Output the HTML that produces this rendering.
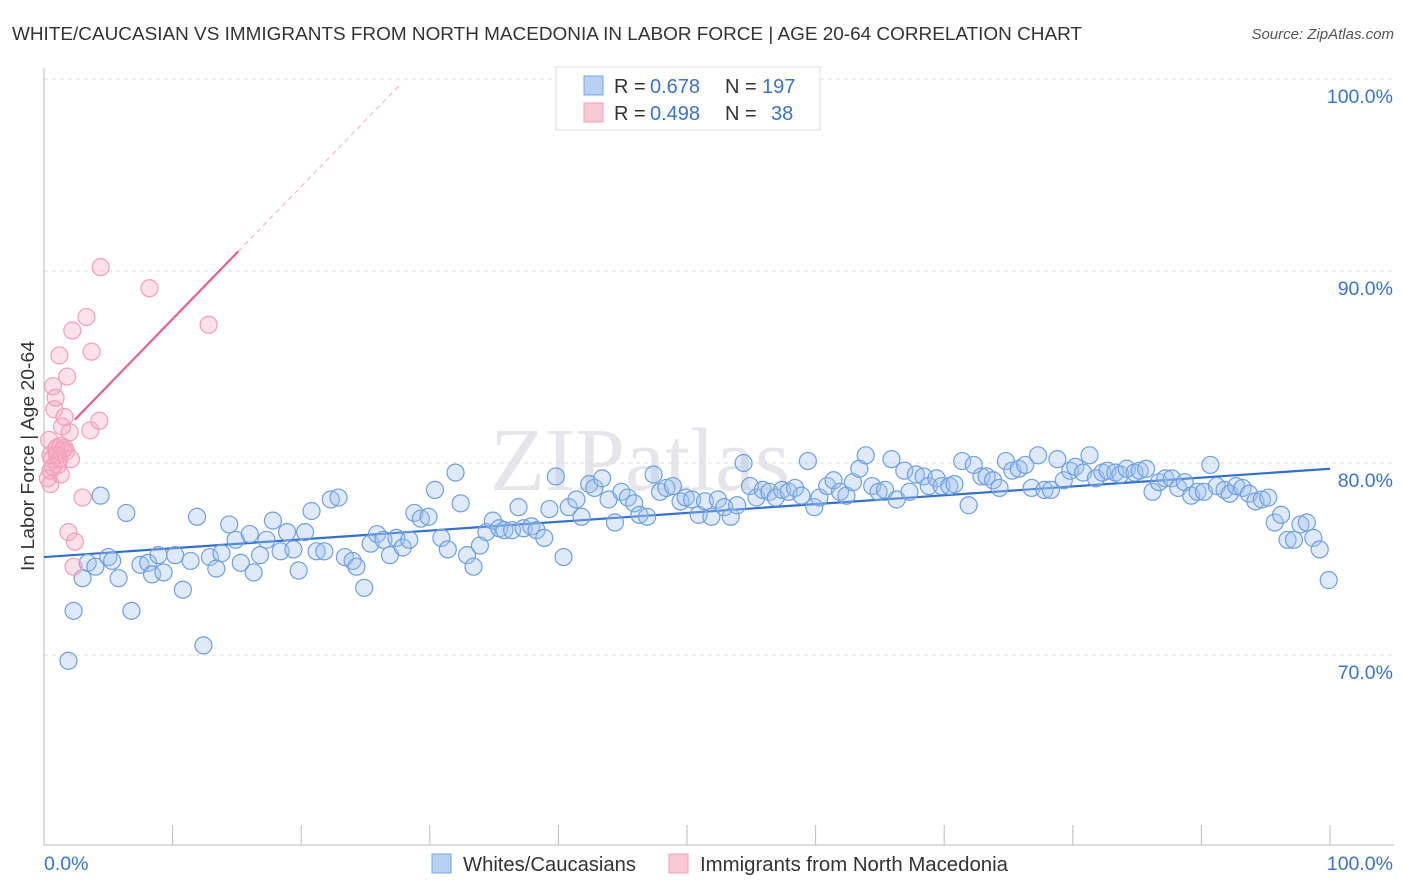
<!DOCTYPE html>
<html><head><meta charset="utf-8">
<style>
body{margin:0;background:#fff;font-family:"Liberation Sans",sans-serif;}
#wrap{position:relative;width:1406px;height:892px;overflow:hidden;}
</style></head>
<body>
<div id="wrap">
<svg id="chart" width="1406" height="892">
<text x="12" y="40" font-size="18.5" fill="#333" textLength="1070" lengthAdjust="spacingAndGlyphs">WHITE/CAUCASIAN VS IMMIGRANTS FROM NORTH MACEDONIA IN LABOR FORCE | AGE 20-64 CORRELATION CHART</text>
<text x="1394" y="39" font-size="15" fill="#555" text-anchor="end" font-style="italic">Source: ZipAtlas.com</text>
<text x="640" y="490" font-size="90" fill="#e6e6ea" text-anchor="middle" font-family="Liberation Serif,serif">ZIPatlas</text>
<g id="grid"></g>
<g id="axes"></g>
<g id="lines"></g>
<g id="pts"></g>
<text transform="translate(34,456) rotate(-90)" font-size="18.5" fill="#333" text-anchor="middle" textLength="230" lengthAdjust="spacingAndGlyphs">In Labor Force | Age 20-64</text>
<g>
<rect x="556" y="67" width="264" height="63" fill="#fff" stroke="#ddd"/>
<rect x="584" y="76" width="19" height="19" fill="#b8d0f4" stroke="#7aa6e6"/>
<text x="614" y="93" font-size="20" fill="#333">R = <tspan x="650" fill="#3b73c8">0.678</tspan><tspan x="725">N =</tspan><tspan x="762" fill="#3b73c8">197</tspan></text>
<rect x="584" y="103" width="19" height="19" fill="#f9c8d6" stroke="#f0a0b8"/>
<text x="614" y="120" font-size="20" fill="#333">R = <tspan x="650" fill="#3b73c8">0.498</tspan><tspan x="725">N =</tspan><tspan x="771" fill="#3b73c8">38</tspan></text>
</g>
<g>
<rect x="432" y="854" width="19" height="19" fill="#b8d0f4" stroke="#7aa6e6"/>
<text x="463" y="871" font-size="20" fill="#333" textLength="173" lengthAdjust="spacingAndGlyphs">Whites/Caucasians</text>
<rect x="669" y="854" width="19" height="19" fill="#f9c8d6" stroke="#f0a0b8"/>
<text x="700" y="871" font-size="20" fill="#333" textLength="308" lengthAdjust="spacingAndGlyphs">Immigrants from North Macedonia</text>
</g>
</svg>
</div>
<script>
const yTicks=[70,80,90,100];
const yTickLabels=["70.0%","80.0%","90.0%","100.0%"];
const xTicks=[0,10,20,30,40,50,60,70,80,90,100];
const blueX=[1.9,2.3,3.0,3.4,4.0,4.4,5.0,5.3,5.8,6.4,6.8,7.5,8.1,8.4,8.9,9.3,10.2,10.8,11.4,11.9,12.4,12.9,13.4,13.8,14.4,14.9,15.3,16.0,16.3,16.8,17.3,17.8,18.4,18.9,19.4,19.8,20.3,20.8,21.2,21.8,22.3,22.9,23.4,24.0,24.3,24.9,25.4,25.9,26.4,26.9,27.4,27.9,28.4,28.8,29.3,29.9,30.4,30.9,31.4,32.0,32.4,32.9,33.4,33.9,34.4,34.9,35.4,35.8,36.4,36.9,37.3,37.9,38.3,38.9,39.3,39.8,40.4,40.8,41.4,41.8,42.4,42.8,43.4,43.9,44.4,44.9,45.4,45.9,46.3,46.9,47.4,47.9,48.4,48.9,49.5,49.9,50.4,50.9,51.4,51.9,52.4,52.9,53.4,53.9,54.4,54.9,55.4,55.9,56.4,56.9,57.4,57.9,58.4,58.9,59.4,59.9,60.3,60.9,61.4,61.9,62.4,62.9,63.4,63.9,64.4,64.9,65.4,65.9,66.3,66.9,67.3,67.8,68.4,68.8,69.4,69.8,70.4,70.8,71.4,71.9,72.3,72.9,73.3,73.8,74.3,74.8,75.3,75.8,76.3,76.8,77.3,77.8,78.3,78.8,79.3,79.8,80.2,80.8,81.3,81.8,82.3,82.7,83.3,83.7,84.2,84.8,85.2,85.7,86.2,86.7,87.2,87.7,88.2,88.7,89.2,89.7,90.2,90.7,91.2,91.8,92.2,92.7,93.2,93.7,94.2,94.7,95.2,95.7,96.2,96.7,97.2,97.7,98.2,98.7,99.2,99.9];
const blueY=[69.7,72.3,74.0,74.8,74.6,78.3,75.1,74.9,74.0,77.4,72.3,74.7,74.8,74.2,75.2,74.3,75.2,73.4,74.9,77.2,70.5,75.1,74.5,75.3,76.8,76.0,74.8,76.3,74.3,75.2,76.0,77.0,75.4,76.4,75.5,74.4,76.4,77.5,75.4,75.4,78.1,78.2,75.1,74.9,74.6,73.5,75.8,76.3,76.0,75.2,76.1,75.6,76.0,77.4,77.1,77.2,78.6,76.1,75.5,79.5,77.9,75.2,74.6,75.7,76.4,77.0,76.6,76.5,76.5,77.7,76.6,76.7,76.5,76.1,77.6,79.3,75.1,77.7,78.1,77.2,78.9,78.7,79.2,78.1,76.9,78.5,78.2,77.9,77.3,77.2,79.4,78.5,78.7,78.8,78.0,78.2,78.1,77.3,78.0,77.2,78.1,77.7,77.2,77.8,80.0,78.8,78.2,78.6,78.5,78.2,78.6,78.5,78.7,78.3,80.1,77.7,78.2,78.8,79.1,78.5,78.3,79.0,79.7,80.4,78.8,78.5,78.6,80.2,78.1,79.6,78.5,79.4,79.3,78.8,79.2,78.8,78.8,78.9,80.1,77.8,79.9,79.3,79.3,79.1,78.7,80.1,79.6,79.7,79.9,78.7,80.4,78.6,78.6,80.2,79.1,79.6,79.8,79.5,80.4,79.2,79.5,79.6,79.5,79.4,79.7,79.5,79.6,79.7,78.5,79.0,79.2,79.2,78.7,79.0,78.3,78.5,78.5,79.9,78.8,78.6,78.4,78.8,78.7,78.4,78.0,78.1,78.2,76.9,77.3,76.0,76.0,76.8,76.9,76.1,75.5,73.9];
const pinkX=[0.4,0.5,0.5,0.5,0.6,0.7,0.8,0.9,0.9,1.0,1.1,1.2,1.2,1.3,1.4,1.5,1.6,1.6,1.7,1.8,1.9,2.0,2.1,2.2,2.3,2.4,3.0,3.3,3.6,3.7,4.3,4.4,8.2,12.8,1.3,1.0,0.7,0.3];
const pinkY=[81.2,78.9,80.4,79.6,80.2,84.0,82.8,80.7,83.4,80.8,79.9,80.2,85.6,79.4,81.9,80.7,82.4,80.8,80.6,84.5,76.4,81.6,80.2,86.9,74.6,75.9,78.2,87.6,81.7,85.8,82.2,90.2,89.1,87.2,80.9,80.4,79.8,79.2];
const blueTrend=[75.1,0.046]; // intercept, slope
const pinkTrend=[80.6,0.69];
const pinkSolidRange=[2.4,15.1];
const pinkDashEnd=27.8;

const X0=44,X1=1330,YB=845;
const sx=v=>X0+(X1-X0)*v/100;
const sy=v=>463-(v-80)*19.2;
const NS="http://www.w3.org/2000/svg";
function mk(tag,parent,attrs){const e=document.createElementNS(NS,tag);for(const k in attrs)e.setAttribute(k,attrs[k]);parent.appendChild(e);return e;}
const grid=document.getElementById('grid'),axes=document.getElementById('axes'),lines=document.getElementById('lines'),pts=document.getElementById('pts');
yTicks.forEach((t,i)=>{
  const l=mk('line',grid,{x1:X0,x2:1394,y1:sy(t),y2:sy(t),stroke:'#ddd','stroke-dasharray':'4,4'});
  
  
  const tx=mk('text',axes,{x:1393,y:sy(t)+24,'font-size':19.5,fill:'#3b73c8','text-anchor':'end'});
  tx.textContent=yTickLabels[i];
  
  
});
const ax=mk('line',axes,{x1:X0,x2:1394,y1:YB,y2:YB,stroke:'#bbb'});


const ay=mk('line',axes,{x1:X0,x2:X0,y1:68,y2:YB,stroke:'#bbb'});


xTicks.forEach(t=>{
  const l=mk('line',axes,{x1:sx(t),x2:sx(t),y1:YB-20,y2:YB,stroke:'#bbb'});
  
  
});
const xl0=mk('text',axes,{x:44,y:870,'font-size':19.5,fill:'#3b73c8'});xl0.textContent='0.0%';


const xl1=mk('text',axes,{x:1393,y:870,'font-size':19.5,fill:'#3b73c8','text-anchor':'end'});xl1.textContent='100.0%';



blueX.forEach((x,i)=>{
  const c=mk('circle',pts,{cx:sx(x),cy:sy(blueY[i]),r:8.5,fill:'rgba(160,195,240,0.35)',stroke:'#6f9fe0','stroke-width':1.2});
  
  
});
pinkX.forEach((x,i)=>{
  const c=mk('circle',pts,{cx:sx(x),cy:sy(pinkY[i]),r:8.5,fill:'rgba(245,170,195,0.35)',stroke:'#f0a0b8','stroke-width':1.2});
  
  
});
const bt=mk('line',lines,{x1:sx(0),y1:sy(blueTrend[0]),x2:sx(100),y2:sy(blueTrend[0]+100*blueTrend[1]),stroke:'#2f6fd6','stroke-width':2.2});


const pf=v=>pinkTrend[0]+pinkTrend[1]*v;
const pd=mk('line',lines,{x1:sx(pinkSolidRange[1]),y1:sy(pf(pinkSolidRange[1])),x2:sx(pinkDashEnd),y2:sy(pf(pinkDashEnd)),stroke:'#f0b0c4','stroke-width':1,'stroke-dasharray':'5,4'});


const ps=mk('line',lines,{x1:sx(pinkSolidRange[0]),y1:sy(pf(pinkSolidRange[0])),x2:sx(pinkSolidRange[1]),y2:sy(pf(pinkSolidRange[1])),stroke:'#e8608a','stroke-width':2.2});


</script>
</body></html>
